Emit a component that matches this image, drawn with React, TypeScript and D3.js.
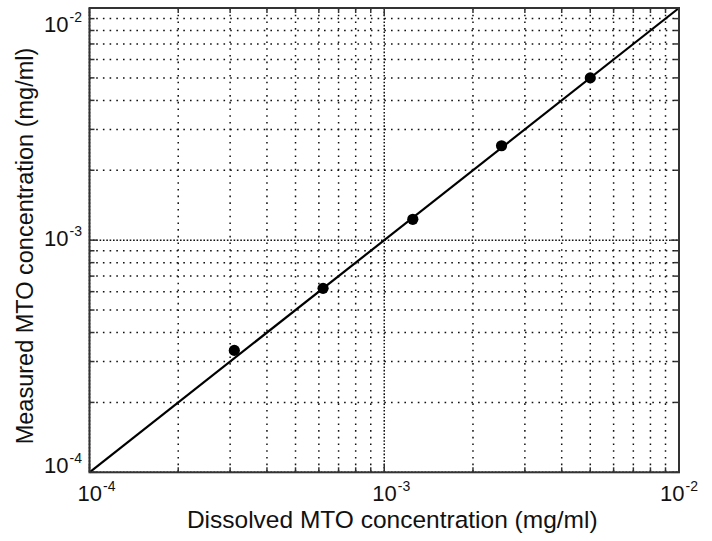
import React from "react";
import * as d3 from "d3";

const dissolved = [3.1e-4, 6.2e-4, 1.25e-3, 2.5e-3, 5.0e-3];
const measured = [3.35e-4, 6.2e-4, 1.23e-3, 2.55e-3, 5.0e-3];
const fitX = [1e-4, 1e-2];
const fitY = [1e-4, 1e-2];
const majorTicks = [1e-4, 1e-3, 1e-2];
const tickExponents = ["-4", "-3", "-2"];
const decades = [1e-4, 1e-3];
const minorMultipliers = [2, 3, 4, 5, 6, 7, 8, 9];
const xTitle = "Dissolved MTO concentration (mg/ml)";
const yTitle = "Measured MTO concentration (mg/ml)";

const W = 712;
const H = 541;
const L = 89.5;
const R = 679;
const T = 8;
const B = 472.3;
const FONT = "'Liberation Sans', Arial, Helvetica, sans-serif";

export default function App() {
  const xs = d3.scaleLog().domain([1e-4, 1e-2]).range([L, R]);
  const ys = d3.scaleLog().domain([1e-4, 1e-2]).range([B, T]);
  const minors: number[] = [];
  decades.forEach((d) => minorMultipliers.forEach((k) => minors.push(k * d)));
  const line = d3
    .line<number>()
    .x((_, i) => xs(fitX[i]))
    .y((v) => ys(v));
  const gridColor = "#111";
  const dash = "1.6 5.1";
  const axisColor = "#333";
  const textColor = "#111";

  return (
    <svg
      width={W}
      height={H}
      style={{ position: "absolute", left: 0, top: 0, background: "#fff" }}
      fontFamily={FONT}
    >
      <rect x={0} y={0} width={W} height={H} fill="#fff" />
      {minors.map((v, i) => (
        <g key={"mg" + i}>
          <line x1={xs(v)} x2={xs(v)} y1={T} y2={B} stroke={gridColor} strokeWidth={1.5} strokeDasharray={dash} />
          <line x1={L} x2={R} y1={ys(v)} y2={ys(v)} stroke={gridColor} strokeWidth={1.5} strokeDasharray={dash} />
        </g>
      ))}
      {majorTicks.map((v, i) => (
        <g key={"Mg" + i}>
          <line x1={xs(v)} x2={xs(v)} y1={T} y2={B} stroke={gridColor} strokeWidth={1.5} strokeDasharray={dash} />
          <line x1={xs(v)} x2={xs(v)} y1={T} y2={B} stroke={gridColor} strokeWidth={1.5} strokeDasharray={dash} strokeDashoffset={3.3} />
          <line x1={L} x2={R} y1={ys(v)} y2={ys(v)} stroke={gridColor} strokeWidth={1.5} strokeDasharray={dash} />
          <line x1={L} x2={R} y1={ys(v)} y2={ys(v)} stroke={gridColor} strokeWidth={1.5} strokeDasharray={dash} strokeDashoffset={3.3} />
        </g>
      ))}
      {minors.map((v, i) => (
        <g key={"mt" + i} stroke={axisColor} strokeWidth={1.5}>
          <line x1={xs(v)} x2={xs(v)} y1={B} y2={B - 5} />
          <line x1={xs(v)} x2={xs(v)} y1={T} y2={T + 5} />
          <line x1={L} x2={L + 5} y1={ys(v)} y2={ys(v)} />
          <line x1={R} x2={R - 5} y1={ys(v)} y2={ys(v)} />
        </g>
      ))}
      {majorTicks.map((v, i) => (
        <g key={"Mt" + i} stroke={axisColor} strokeWidth={1.5}>
          <line x1={xs(v)} x2={xs(v)} y1={B} y2={B - 8} />
          <line x1={xs(v)} x2={xs(v)} y1={T} y2={T + 8} />
          <line x1={L} x2={L + 8} y1={ys(v)} y2={ys(v)} />
          <line x1={R} x2={R - 8} y1={ys(v)} y2={ys(v)} />
        </g>
      ))}
      <path d={line(fitY) || ""} fill="none" stroke="#000" strokeWidth={2.2} />
      {dissolved.map((v, i) => (
        <circle key={"p" + i} cx={xs(v)} cy={ys(measured[i])} r={5.6} fill="#000" />
      ))}
      <rect x={L} y={T} width={R - L} height={B - T} fill="none" stroke={axisColor} strokeWidth={2} />
      {majorTicks.map((v, i) => (
        <text key={"xl" + i} x={Math.min(xs(v) - 12, R - 19)} y={501} fontSize={22} fill={textColor}>
          <tspan>10</tspan>
          <tspan dx={1} dy={-10} fontSize={14}>{tickExponents[i]}</tspan>
        </text>
      ))}
      {majorTicks.map((v, i) => (
        <text
          key={"yl" + i}
          x={82}
          y={Math.max(T + 24, Math.min(ys(v) + 6, B + 1))}
          fontSize={22}
          fill={textColor}
          textAnchor="end"
        >
          <tspan>10</tspan>
          <tspan dx={1} dy={-10} fontSize={14}>{tickExponents[i]}</tspan>
        </text>
      ))}
      <text x={(L + R) / 2 + 8} y={528} fontSize={24.5} textAnchor="middle" fill={textColor}>
        {xTitle}
      </text>
      <text
        transform={`translate(33, 246) rotate(-90)`}
        fontSize={23.5}
        textAnchor="middle"
        fill={textColor}
      >
        {yTitle}
      </text>
    </svg>
  );
}
